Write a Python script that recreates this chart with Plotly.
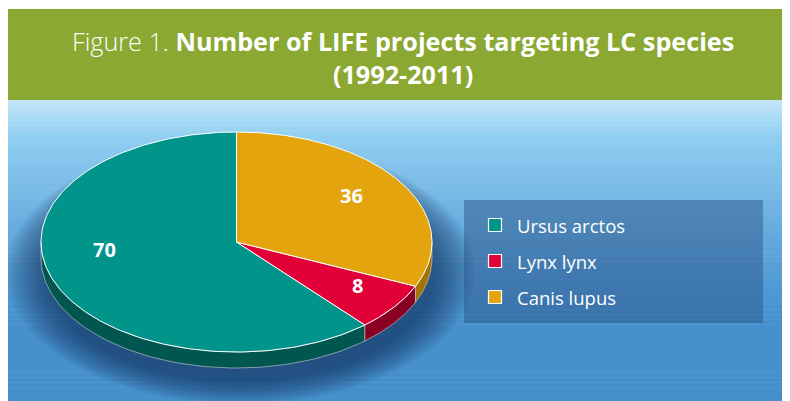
import numpy as np
import plotly.graph_objects as go

# ---- data ----
categories = ["Ursus arctos", "Lynx lynx", "Canis lupus"]
values = [70, 8, 36]
title_prefix = "Figure 1."
title_main = "Number of LIFE projects targeting LC species"
title_line2 = "(1992-2011)"

# ---- style ----
W, H = 790, 401
OFF = 8  # page body margin compensation
top_colors = ["#00948a", "#e10038", "#e4a40d"]
side_colors = ["#00574f", "#8a0022", "#a57400"]
CX, CY, RX, RY, DEPTH = 236.5, 242, 195.5, 110, 16
FONT = "Open Sans"

fig = go.Figure()
shapes = []

# header band
shapes.append(dict(type="rect", xref="x", yref="y", x0=5, x1=W + 20, y0=9, y1=100,
                   fillcolor="#8aa832", line=dict(width=0), layer="below"))
# gradient background
stops = [(100, (197, 230, 248)), (135, (146, 208, 242)), (200, (116, 182, 228)),
         (260, (90, 161, 216)), (325, (70, 144, 205)), (420, (69, 144, 204))]
ys = np.linspace(100, 420, 128)
for i in range(len(ys) - 1):
    ym = (ys[i] + ys[i + 1]) / 2
    for j in range(len(stops) - 1):
        if stops[j][0] <= ym <= stops[j + 1][0]:
            t = (ym - stops[j][0]) / (stops[j + 1][0] - stops[j][0])
            c = [int(round(a + (b - a) * t)) for a, b in zip(stops[j][1], stops[j + 1][1])]
            break
    shapes.append(dict(type="rect", xref="x", yref="y", x0=5, x1=W + 20, y0=ys[i], y1=ys[i + 1] + 0.6,
                       fillcolor="rgb(%d,%d,%d)" % tuple(c), line=dict(width=0), layer="below"))

# soft shadow under the pie
for k in range(12):
    s = 1 + k * 0.018
    th = np.linspace(0, 2 * np.pi, 120)
    fig.add_trace(go.Scatter(x=CX + 4 + RX * s * np.sin(th), y=CY + 30 + RY * s * np.cos(th),
                             fill="toself", mode="none", fillcolor="rgba(20,45,85,0.07)",
                             hoverinfo="skip", showlegend=False))

# pie geometry from values (clockwise angle from 12 o'clock, slices go counterclockwise)
total = sum(values)
starts, ends = [], []
acc = 0
for v in values:
    a0 = 360 - acc / total * 360
    acc += v
    a1 = 360 - acc / total * 360
    starts.append(a1)
    ends.append(a0)


def ell(a_deg, dy=0.0):
    a = np.radians(a_deg)
    return CX + RX * np.sin(a), CY - RY * np.cos(a) + dy


# sides (visible front half: 90..270)
for i in range(len(values)):
    lo, hi = max(starts[i], 90), min(ends[i], 270)
    if hi <= lo:
        continue
    a = np.linspace(lo, hi, 80)
    xt, yt = ell(a)
    xb, yb = ell(a[::-1], DEPTH)
    fig.add_trace(go.Scatter(x=np.concatenate([xt, xb, xt[:1]]), y=np.concatenate([yt, yb, yt[:1]]),
                             fill="toself", mode="lines", fillcolor=side_colors[i],
                             line=dict(color="rgba(200,200,200,0.8)", width=0.8),
                             hoverinfo="skip", showlegend=False))

# tops
for i in range(len(values)):
    a = np.linspace(starts[i], ends[i], 200)
    xe, ye = ell(a)
    fig.add_trace(go.Scatter(x=np.concatenate([[CX], xe, [CX]]), y=np.concatenate([[CY], ye, [CY]]),
                             fill="toself", mode="lines", fillcolor=top_colors[i],
                             line=dict(color="white", width=1),
                             name=categories[i], hoverinfo="skip", showlegend=False))

annotations = []
# value labels
nudge = [(0, -20), (8, -3), (-3, -3)]
for i, v in enumerate(values):
    mid = (starts[i] + ends[i]) / 2
    a = np.radians(mid)
    x = CX + 0.72 * RX * np.sin(a) + nudge[i][0]
    y = CY - 0.72 * RY * np.cos(a) + nudge[i][1]
    annotations.append(dict(x=x, y=y, xref="x", yref="y", text="<b>%d</b>" % v, showarrow=False,
                            font=dict(family=FONT, size=20, color="white")))

# legend box (semi-transparent panel)
bx0, bx1, by0, by1 = 464, 763, 200, 323
fig.add_trace(go.Scatter(x=[bx0, bx1, bx1, bx0, bx0], y=[by0, by0, by1, by1, by0],
                         fill="toself", mode="none", fillcolor="rgba(35,75,125,0.42)",
                         hoverinfo="skip", showlegend=False))
leg_y = [225, 261, 297]
fig.add_trace(go.Scatter(x=[495] * 3, y=leg_y, mode="markers",
                         marker=dict(symbol="square", size=13, color=top_colors,
                                     line=dict(color="white", width=1.2)),
                         hoverinfo="skip", showlegend=False))
for i, c in enumerate(categories):
    annotations.append(dict(x=515, y=leg_y[i], xref="x", yref="y", text=c, showarrow=False,
                            xanchor="left", yanchor="middle",
                            font=dict(family=FONT, size=18.5, color="white")))

# title (two lines in one text block)
annotations.append(dict(x=403, y=57, xref="x", yref="y", showarrow=False, xanchor="center",
                        yanchor="middle", align="center",
                        text="<span style='font-weight:300'>%s</span> <b>%s</b><br><b>%s</b>"
                             % (title_prefix, title_main, title_line2),
                        font=dict(family=FONT, size=25.2, color="white")))

fig.update_layout(
    width=W, height=H, margin=dict(l=0, r=0, t=0, b=0),
    paper_bgcolor="white", plot_bgcolor="rgba(0,0,0,0)",
    xaxis=dict(range=[OFF, W + OFF], visible=False, fixedrange=True),
    yaxis=dict(range=[H + OFF, OFF], visible=False, fixedrange=True),
    shapes=shapes, annotations=annotations, showlegend=False,
)
fig.write_html("out.html")
